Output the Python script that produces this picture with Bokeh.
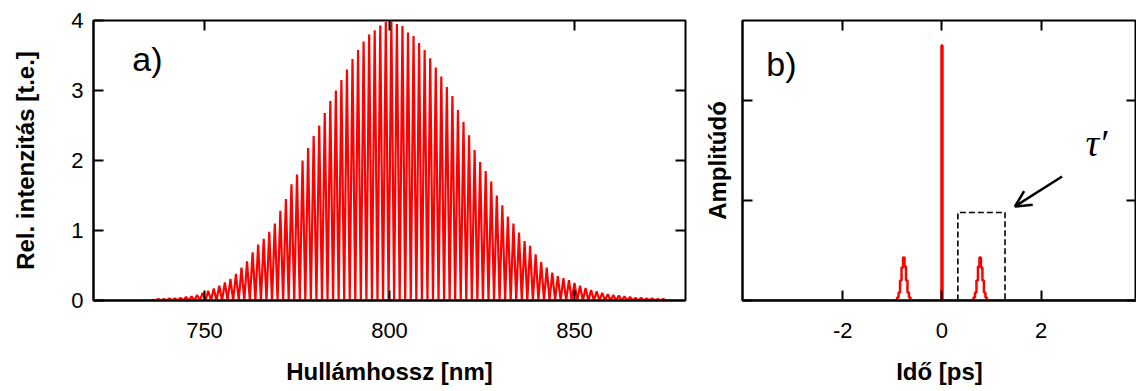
from bokeh.plotting import figure
from bokeh.layouts import row
from bokeh.models import (Range1d, LinearAxis, FixedTicker, Label, Arrow, OpenHead,
                          CustomJSTickFormatter)
from bokeh.embed import file_html
from bokeh.resources import INLINE

# ---------------- data: panel a) spectral fringes ----------------
fringe_start_nm = 736.0
fringe_period_nm = 1.5
fringe_peaks = [
    0.01, 0.02, 0.02, 0.03, 0.03, 0.04, 0.05, 0.06, 0.08, 0.11,
    0.14, 0.17, 0.21, 0.26, 0.31, 0.38, 0.47, 0.56, 0.69, 0.80,
    0.88, 0.98, 1.10, 1.28, 1.45, 1.66, 1.80, 2.00, 2.18, 2.35,
    2.50, 2.68, 2.85, 3.00, 3.15, 3.30, 3.45, 3.58, 3.70, 3.80,
    3.86, 3.93, 3.98, 4.00, 3.95, 3.92, 3.83, 3.78, 3.68, 3.58,
    3.46, 3.33, 3.20, 3.05, 2.92, 2.72, 2.55, 2.36, 2.15, 1.98,
    1.85, 1.70, 1.50, 1.36, 1.20, 1.10, 0.97, 0.85, 0.78, 0.66,
    0.55, 0.47, 0.40, 0.35, 0.32, 0.29, 0.25, 0.21, 0.18, 0.15,
    0.13, 0.11, 0.09, 0.08, 0.07, 0.06, 0.05, 0.04, 0.04, 0.03,
    0.03, 0.02, 0.02,
]
fringe_trough = 0.0
wl_min, wl_max = 720.0, 880.0

# ---------------- data: panel b) Fourier amplitude ----------------
time_ps = [-4.0, -0.92, -0.89, -0.86, -0.83, -0.80, -0.77, -0.74, -0.71, -0.68, -0.65, -0.62,
           -0.02, 0.0, 0.02,
           0.62, 0.65, 0.68, 0.71, 0.74, 0.77, 0.80, 0.83, 0.86, 0.89, 0.92, 4.0]
amplitude = [0.0, 0.0, 0.03, 0.08, 0.20, 0.33, 0.43, 0.34, 0.20, 0.08, 0.03, 0.0,
             0.0, 2.55, 0.0,
             0.0, 0.03, 0.08, 0.20, 0.34, 0.43, 0.33, 0.20, 0.08, 0.03, 0.0, 0.0]

box_t = [0.32, 1.27]
box_top = 0.88
arrow_from = (2.42, 1.24)
arrow_to = (1.47, 0.94)

wl_ticks = [750, 800, 850]
int_ticks = [0, 1, 2, 3, 4]
t_ticks = [-2, 0, 2]
t_tick_labels = {-2: "-2", 0: "0", 2: "2"}
amp_ticks = [0, 1, 2]

FONT = "Liberation Sans"
RED = "#ff0000"


def blank_axis(ticks):
    ax = LinearAxis(ticker=FixedTicker(ticks=ticks),
                    formatter=CustomJSTickFormatter(code="return ''"))
    ax.major_tick_in = 10
    ax.major_tick_out = 0
    ax.minor_tick_in = 0
    ax.minor_tick_out = 0
    ax.major_tick_line_width = 2
    ax.major_tick_line_color = "black"
    ax.axis_line_color = None
    ax.major_label_standoff = 0
    ax.major_label_text_font_size = "0px"
    return ax


def style_axis(ax, ticks, label, lab_standoff, ax_standoff):
    ax.ticker = FixedTicker(ticks=ticks)
    ax.major_tick_in = 10
    ax.major_tick_out = 0
    ax.minor_tick_in = 0
    ax.minor_tick_out = 0
    ax.major_tick_line_width = 2
    ax.axis_line_width = 2
    ax.axis_line_color = "black"
    ax.major_label_text_font = FONT
    ax.major_label_text_font_size = "22px"
    ax.major_label_text_color = "black"
    ax.major_label_standoff = lab_standoff
    ax.axis_label = label
    ax.axis_label_text_font = FONT
    ax.axis_label_text_font_size = "24px"
    ax.axis_label_text_font_style = "bold"
    ax.axis_label_text_color = "black"
    ax.axis_label_standoff = ax_standoff


# ---------------- panel a ----------------
p1 = figure(width=700, height=390, x_range=Range1d(wl_min, wl_max), y_range=Range1d(0, 4),
            output_backend="svg", toolbar_location=None,
            min_border_left=93, min_border_right=15, min_border_top=19, min_border_bottom=88)
p1.grid.visible = False
p1.outline_line_color = "black"
p1.outline_line_width = 2
style_axis(p1.xaxis[0], wl_ticks, "Hullámhossz [nm]", 22, 17)
style_axis(p1.yaxis[0], int_ticks, "Rel. intenzitás [t.e.]", 10, 29)
p1.add_layout(blank_axis(wl_ticks), "above")
p1.add_layout(blank_axis([1, 2, 3]), "right")

xs = [wl_min, fringe_start_nm - fringe_period_nm / 2]
ys = [0.0, 0.0]
for i, h in enumerate(fringe_peaks):
    x0 = fringe_start_nm + i * fringe_period_nm
    xs += [x0, x0 + fringe_period_nm / 2]
    ys += [h, fringe_trough]
xs.append(wl_max)
ys.append(0.0)
p1.line(xs, ys, line_color=RED, line_width=2.2)

p1.add_layout(Label(x=730.5, y=3.45, text="a)", text_font=FONT, text_font_size="34px",
                    text_baseline="middle", text_color="black"))

# ---------------- panel b ----------------
p2 = figure(width=436, height=390, x_range=Range1d(-4.02, 3.92), y_range=Range1d(0, 2.8),
            output_backend="svg", toolbar_location=None,
            min_border_left=41, min_border_right=0, min_border_top=20, min_border_bottom=90)
p2.grid.visible = False
p2.outline_line_color = "black"
p2.outline_line_width = 2
style_axis(p2.xaxis[0], t_ticks, "Idő [ps]", 22, 17)
p2.xaxis[0].major_label_overrides = t_tick_labels
style_axis(p2.yaxis[0], amp_ticks, "Amplitúdó", 0, 12)
p2.yaxis[0].formatter = CustomJSTickFormatter(code="return ''")
p2.add_layout(blank_axis(t_ticks), "above")
p2.add_layout(blank_axis(amp_ticks), "right")

p2.line([box_t[0], box_t[0], box_t[1], box_t[1], box_t[0]],
        [0, box_top, box_top, 0, 0], line_color="black", line_width=1.6, line_dash="6 3")
p2.step(time_ps, amplitude, mode="center", line_color=RED, line_width=2.5)

p2.add_layout(Arrow(end=OpenHead(size=16, line_width=2.5, line_color="black"),
                    x_start=arrow_from[0], y_start=arrow_from[1],
                    x_end=arrow_to[0], y_end=arrow_to[1],
                    line_width=2.5, line_color="black"))
p2.add_layout(Label(x=-3.54, y=2.37, text="b)", text_font=FONT, text_font_size="34px",
                    text_baseline="middle", text_color="black"))
p2.add_layout(Label(x=2.89, y=1.58, text="τ′", text_font="Liberation Serif",
                    text_font_style="italic", text_font_size="38px",
                    text_baseline="alphabetic", text_color="black"))

layout = row(p1, p2)
open("out.html", "w").write(file_html(layout, INLINE))
